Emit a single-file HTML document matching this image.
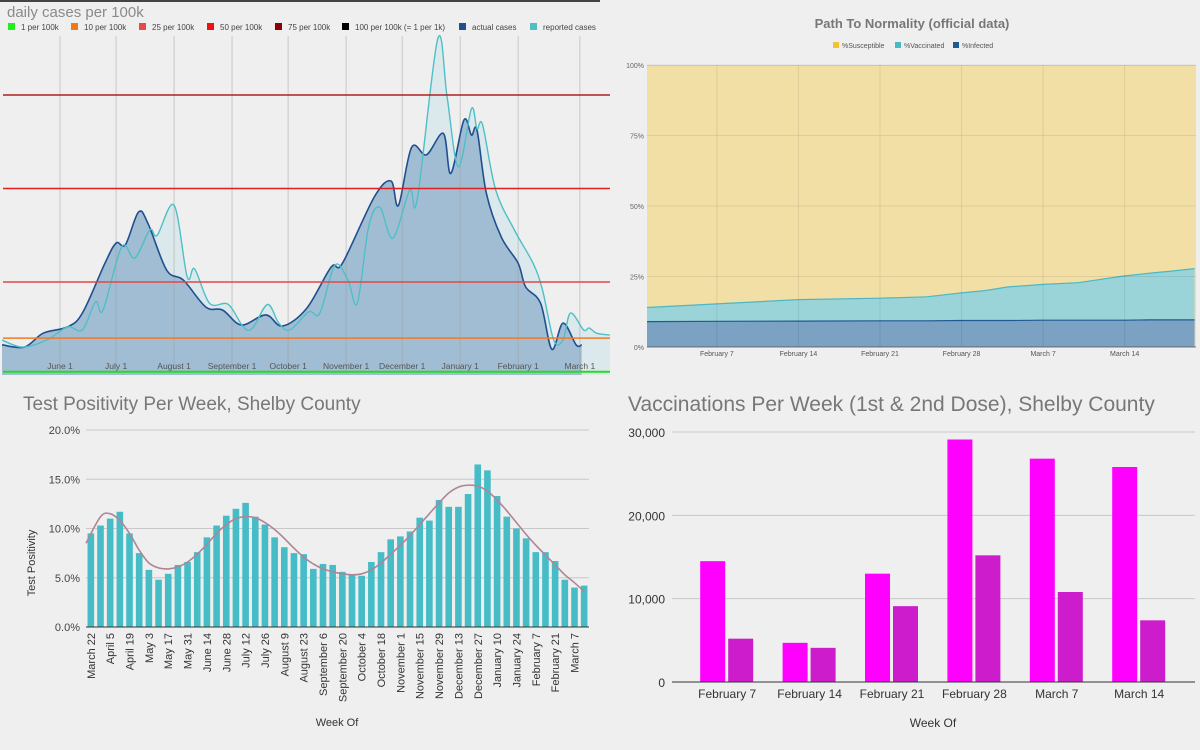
<!DOCTYPE html>
<html><head><meta charset="utf-8"><style>
body{margin:0;background:#efefef;}
svg{display:block;font-family:"Liberation Sans",sans-serif;}
</style></head><body>
<svg id="s" width="1200" height="750" viewBox="0 0 1200 750">
<rect width="1200" height="750" fill="#efefef"/>
<rect x="0" y="0" width="600" height="2" fill="#444"/>
<text x="7" y="17" font-size="15" fill="#8a8a8a">daily cases per 100k</text>
<g id="tl"></g>
<g id="tr"></g>
<g id="bl"></g>
<g id="br"></g>
</svg>
<script>
// ---------- data: daily cases (day offset since May 1, cases per 100k) ----------
const actualDays=[0,12,22,35,43,55,61,66,73,78,88,97,109,118,128,141,150,163,176,182,199,208,212,219,227,236,240,247,251,254,259,267,276,280,288,294,300,307,310];
const actualVals=[8.2,7.6,11.3,13,16.7,30,35.4,35,43.7,40.7,28.2,25.5,18.3,17.5,13.5,16.2,13.2,18,29,30,47.7,52,45.5,61,59,64.7,54,68.3,64.3,65.6,48.7,37,30,23.7,19.3,7,14,8.2,8.2];
const reportedDays=[0,11,24,35,43,50,54,64,71,79,83,92,99,103,111,121,129,134,142,148,154,164,170,178,185,190,196,202,209,218,222,233,238,244,251,254,257,264,274,284,289,295,300,304,311,314,318,325];
const reportedVals=[9.5,7.6,9.5,13,12.2,19.7,17.5,34.4,31.4,38.9,37.5,45.5,26.4,28.5,19.3,19,13,12.7,19,14,12.2,17,16.7,29.5,25.5,19.3,39.7,45,36.7,49.6,47,90,74.5,55.8,71.3,66,67,49.6,38.9,30,22.9,9.5,9.5,16.7,12.2,12.7,11.3,10.8];
const thresholdVals=[1,10,25,50,75];
const thresholdColors=["#22dd22","#f07a2a","#e04848","#e02020","#b02020"];
const monthLabels=["June 1","July 1","August 1","September 1","October 1","November 1","December 1","January 1","February 1","March 1"];
const monthDays=[31,61,92,123,153,184,214,245,276,309];
const legendLabels=["1 per 100k","10 per 100k","25 per 100k","50 per 100k","75 per 100k","100 per 100k (= 1 per 1k)","actual cases","reported cases"];
const legendColors=["#22ee22","#f07a1a","#e84a4a","#ee1111","#8b0000","#000000","#1f4f8f","#4fbfc6"];

// ---------- data: path to normality (day offset since Feb 1, %) ----------
const pnDays=[0,6,13,20,24,27,29,31,34,37,41,43,45,47];
const pnVaccTop=[14,15.3,16.8,17.3,17.8,19.2,20,21.3,22.2,22.8,25.2,26.1,26.9,27.8];
const pnInfected=[9,9.1,9.2,9.3,9.3,9.4,9.4,9.4,9.5,9.5,9.5,9.6,9.6,9.6];
const pnTickLabels=["February 7","February 14","February 21","February 28","March 7","March 14"];
const pnTickDays=[6,13,20,27,34,41];
const pnYTicks=[0,25,50,75,100];

// ---------- data: test positivity ----------
const tpWeeks=["March 22","March 29","April 5","April 12","April 19","April 26","May 3","May 10","May 17","May 24","May 31","June 7","June 14","June 21","June 28","July 5","July 12","July 19","July 26","August 2","August 9","August 16","August 23","August 30","September 6","September 13","September 20","September 27","October 4","October 11","October 18","October 25","November 1","November 8","November 15","November 22","November 29","December 6","December 13","December 20","December 27","January 3","January 10","January 17","January 24","January 31","February 7","February 14","February 21","February 28","March 7","March 14"];
const tpValues=[9.5,10.3,11.0,11.7,9.5,7.5,5.8,4.8,5.4,6.3,6.6,7.6,9.1,10.3,11.3,12.0,12.6,11.2,10.4,9.1,8.1,7.5,7.4,5.9,6.4,6.3,5.6,5.3,5.2,6.6,7.6,8.9,9.2,9.7,11.1,10.8,12.9,12.2,12.2,13.5,16.5,15.9,13.3,11.2,10.0,9.0,7.6,7.6,6.7,4.8,4.0,4.2];
const tpTrend=[8.5,11.2,11.5,10.8,9.5,7.8,6.5,6.0,5.9,6.1,6.6,7.4,8.4,9.5,10.4,11.0,11.2,11.1,10.6,9.9,9.0,8.0,7.1,6.4,5.9,5.6,5.4,5.3,5.4,5.8,6.5,7.4,8.3,9.3,10.4,11.5,12.6,13.6,14.2,14.4,14.3,13.8,12.9,11.8,10.6,9.4,8.3,7.3,6.3,5.3,4.5,3.6];
const tpYTicks=[0,5,10,15,20];

// ---------- data: vaccinations ----------
const vxWeeks=["February 7","February 14","February 21","February 28","March 7","March 14"];
const vxDose1=[14500,4700,13000,29100,26800,25800];
const vxDose2=[5200,4100,9100,15200,10800,7400];
const vxYTicks=[0,10000,20000,30000];

const NS="http://www.w3.org/2000/svg";
function mk(parent,tag,attrs,text){const e=document.createElementNS(NS,tag);for(const k in attrs)e.setAttribute(k,attrs[k]);if(text!==undefined)e.textContent=text;parent.appendChild(e);return e;}
function smooth(pts){let d="M"+pts[0][0]+","+pts[0][1];for(let i=0;i<pts.length-1;i++){const p0=pts[Math.max(0,i-1)],p1=pts[i],p2=pts[i+1],p3=pts[Math.min(pts.length-1,i+2)];const c1=[p1[0]+(p2[0]-p0[0])/6,p1[1]+(p2[1]-p0[1])/6],c2=[p2[0]-(p3[0]-p1[0])/6,p2[1]-(p3[1]-p1[1])/6];d+=" C"+c1[0].toFixed(1)+","+c1[1].toFixed(1)+" "+c2[0].toFixed(1)+","+c2[1].toFixed(1)+" "+p2[0].toFixed(1)+","+p2[1].toFixed(1);}return d;}

// ===== top-left =====
(function(){
const g=document.getElementById('tl');
const x=d=>60+(d-31)*1.87, y=v=>375.5-v*3.74;
let lx=[12,75,143,211,279,346,463,534];
legendLabels.forEach((l,i)=>{
 const it=mk(g,'g',{});
 
 
 mk(it,'rect',{x:lx[i]-4,y:23,width:7,height:7,fill:legendColors[i]});
 mk(it,'text',{x:lx[i]+9,y:30,'font-size':8,fill:'#444'},l);
});
const rp=reportedDays.map((d,i)=>[x(d),y(reportedVals[i])]);
const ap=actualDays.map((d,i)=>[x(d),y(actualVals[i])]);
const rl=smooth(rp), al=smooth(ap);
const ra=mk(g,'path',{d:rl+" L"+rp[rp.length-1][0]+",375 L"+rp[0][0]+",375 Z",fill:'#dce9ec'});

const aa=mk(g,'path',{d:al+" L"+ap[ap.length-1][0]+",375 L"+ap[0][0]+",375 Z",fill:'#a1bdd3'});

monthDays.forEach((d,i)=>{
 mk(g,'line',{x1:x(d),x2:x(d),y1:36,y2:372,stroke:'#999','stroke-opacity':0.45,'stroke-width':1});
});
const aL=mk(g,'path',{d:al,fill:'none',stroke:'#1f4f8f','stroke-width':1.6});

const rL=mk(g,'path',{d:rl,fill:'none',stroke:'#4fbfc6','stroke-width':1.4});

thresholdVals.forEach((v,i)=>{
 const l=mk(g,'line',{x1:3,x2:610,y1:y(v),y2:y(v),stroke:thresholdColors[i],'stroke-width':i==0?2:1.5});
 
});
monthDays.forEach((d,i)=>{
 const t=mk(g,'text',{x:x(d),y:369,'font-size':8.5,fill:'#555','text-anchor':'middle'},monthLabels[i]);
 
});
})();

// ===== top-right =====
(function(){
const g=document.getElementById('tr');
const x0=647,x1=1196,yb=347,yt=65;
const x=d=>x0+d*11.65, y=v=>yb-v*(yb-yt)/100;
mk(g,'text',{x:912,y:28,'font-size':13,'font-weight':'bold',fill:'#777','text-anchor':'middle'},'Path To Normality (official data)');
const leg=[["%Susceptible","#f1c232",833],["%Vaccinated","#4bb8c4",895],["%Infected","#1f5a94",953]];
leg.forEach((l,i)=>{const it=mk(g,'g',{});
 mk(it,'rect',{x:l[2],y:42,width:6,height:6,fill:l[1]});mk(it,'text',{x:l[2]+9,y:48,'font-size':7,fill:'#555'},l[0]);});
mk(g,'rect',{x:x0,y:yt,width:x1-x0,height:yb-yt,fill:'#f2dfa6'});
mk(g,'line',{x1:x0,x2:x1,y1:yt+0.5,y2:yt+0.5,stroke:'#f1c232','stroke-opacity':0.5});
const vp=pnDays.map((d,i)=>[x(d),y(pnVaccTop[i])]);
const ip=pnDays.map((d,i)=>[x(d),y(pnInfected[i])]);
const line=p=>"M"+p.map(q=>q[0].toFixed(1)+","+q[1].toFixed(1)).join(" L");
const xe=vp[vp.length-1][0];
const va=mk(g,'path',{d:line(vp)+` L${xe},${yb} L${x0},${yb} Z`,fill:'#9ad4d9'});

const ia=mk(g,'path',{d:line(ip)+` L${xe},${yb} L${x0},${yb} Z`,fill:'#7ba1c3'});

mk(g,'path',{d:line(vp),fill:'none',stroke:'#4bb8c4','stroke-width':1.2});
mk(g,'path',{d:line(ip),fill:'none',stroke:'#1f5a94','stroke-width':1.2});
pnYTicks.forEach(v=>{mk(g,'line',{x1:x0,x2:x1,y1:y(v),y2:y(v),stroke:'#000','stroke-opacity':0.08});
 mk(g,'text',{x:644,y:y(v)+3,'font-size':7,fill:'#666','text-anchor':'end'},v+'%');});
pnTickDays.forEach((d,i)=>{mk(g,'line',{x1:x(d),x2:x(d),y1:yt,y2:yb,stroke:'#000','stroke-opacity':0.08});
 const t=mk(g,'text',{x:x(d),y:356,'font-size':7,fill:'#555','text-anchor':'middle'},pnTickLabels[i]);
 });
mk(g,'line',{x1:x0,x2:x1,y1:yb,y2:yb,stroke:'#555','stroke-width':0.8});
})();

// ===== bottom-left =====
(function(){
const g=document.getElementById('bl');
const x0=86,x1=589,yb=627,yt=430;
const bw=(x1-x0)/tpValues.length;
const x=i=>x0+bw*(i+0.5), y=v=>yb-v*(yb-yt)/20;
mk(g,'text',{x:23,y:410,'font-size':19,fill:'#777'},'Test Positivity Per Week, Shelby County');
tpYTicks.forEach(v=>{mk(g,'line',{x1:x0,x2:x1,y1:y(v),y2:y(v),stroke:'#c8c8c8'});
 mk(g,'text',{x:80,y:y(v)+4,'font-size':11,fill:'#444','text-anchor':'end'},v.toFixed(1)+'%');});
tpValues.forEach((v,i)=>{
 const r=mk(g,'rect',{x:x(i)-3.3,y:y(v),width:6.6,height:yb-y(v),fill:'#45bcc6'});
 
 
});
const tp=tpTrend.map((v,i)=>[x(i),y(v)]);tp[0][0]=x0;
const tl=mk(g,'path',{d:smooth(tp),fill:'none',stroke:'#b08598','stroke-width':1.6});

mk(g,'line',{x1:x0,x2:x1,y1:yb,y2:yb,stroke:'#333','stroke-width':1});
tpWeeks.forEach((w,i)=>{if(i%2)return;
 const t=mk(g,'text',{transform:`translate(${x(i)+4},${yb+6}) rotate(-90)`,'font-size':11,fill:'#333','text-anchor':'end'},w);
 });
mk(g,'text',{transform:'translate(35,563) rotate(-90)','font-size':11,fill:'#333','text-anchor':'middle'},'Test Positivity');
mk(g,'text',{x:337,y:726,'font-size':11,fill:'#333','text-anchor':'middle'},'Week Of');
})();

// ===== bottom-right =====
(function(){
const g=document.getElementById('br');
const x0=672,x1=1195,yb=682,yt=432;
const gw=82.4, gs=686;
const y=v=>yb-v*(yb-yt)/30000;
mk(g,'text',{x:628,y:411,'font-size':21,fill:'#777'},'Vaccinations Per Week (1st & 2nd Dose), Shelby County');
vxYTicks.forEach(v=>{mk(g,'line',{x1:x0,x2:x1,y1:y(v),y2:y(v),stroke:'#c8c8c8'});
 mk(g,'text',{x:665,y:y(v)+5,'font-size':12,fill:'#333','text-anchor':'end'},v.toLocaleString('en-US'));});
vxWeeks.forEach((w,i)=>{
 const c=gs+gw*(i+0.5);
 const a=mk(g,'rect',{x:c-27,y:y(vxDose1[i]),width:25,height:yb-y(vxDose1[i]),fill:'#ff00ff'});
 
 const b=mk(g,'rect',{x:c+1,y:y(vxDose2[i]),width:25,height:yb-y(vxDose2[i]),fill:'#cc1ccc'});
 
 const t=mk(g,'text',{x:c,y:698,'font-size':12,fill:'#333','text-anchor':'middle'},w);
 
});
mk(g,'line',{x1:x0,x2:x1,y1:yb,y2:yb,stroke:'#333','stroke-width':1});
mk(g,'text',{x:933,y:727,'font-size':12,fill:'#333','text-anchor':'middle'},'Week Of');
})();
</script>
</body></html>
